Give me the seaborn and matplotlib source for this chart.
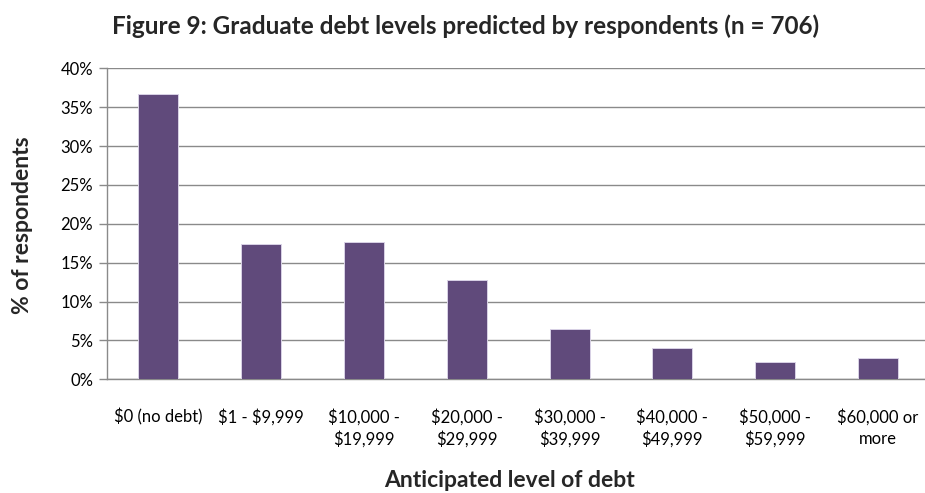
import matplotlib
matplotlib.use("Agg")
import matplotlib.pyplot as plt
import seaborn as sns
import pandas as pd
from matplotlib.ticker import PercentFormatter, MultipleLocator

categories = [
    "$0 (no debt)",
    "$1 - $9,999",
    "$10,000 -\n$19,999",
    "$20,000 -\n$29,999",
    "$30,000 -\n$39,999",
    "$40,000 -\n$49,999",
    "$50,000 -\n$59,999",
    "$60,000 or\nmore",
]
percent_respondents = [36.7, 17.4, 17.6, 12.8, 6.5, 4.0, 2.2, 2.8]

title = "Figure 9: Graduate debt levels predicted by respondents (n = 706)"
x_label = "Anticipated level of debt"
y_label = "% of respondents"

sns.set_theme(style="white")
plt.rcParams["font.family"] = ["Lato", "DejaVu Sans"]
plt.rcParams["text.parse_math"] = False

df = pd.DataFrame({"level": categories, "pct": percent_respondents})

fig = plt.figure(figsize=(9.25, 4.93), dpi=100)
ax = fig.add_axes([0.1157, 0.2306, 0.889, 0.6309])

grid_col = "#8a8a8a"
sns.barplot(data=df, x="level", y="pct", color="#604A7B", saturation=1,
            width=0.39, edgecolor="#d9d2e6", linewidth=0.7, ax=ax, zorder=3)

ax.set_ylim(0, 40)
ax.yaxis.set_major_locator(MultipleLocator(5))
ax.yaxis.set_major_formatter(PercentFormatter(decimals=0))
ax.set_xlim(-0.5, len(categories) - 0.5)
ax.grid(axis="y", color=grid_col, linewidth=1.0, zorder=0)
ax.set_axisbelow(True)

for side in ("top", "right"):
    ax.spines[side].set_visible(False)
for side in ("left", "bottom"):
    ax.spines[side].set_color(grid_col)
    ax.spines[side].set_linewidth(1.0)

# category boundary ticks on the x axis
ax.set_xticks([i - 0.5 for i in range(len(categories) + 1)], minor=True)
ax.tick_params(axis="x", which="minor", length=6, width=1.0, color=grid_col, direction="out")
ax.tick_params(axis="x", which="major", length=0, pad=21, labelsize=12, colors="black")
ax.tick_params(axis="y", which="major", length=6, width=1.0, color=grid_col,
               direction="out", labelsize=12, colors="black", left=True, pad=4)
for lbl in ax.get_xticklabels():
    lbl.set_linespacing(1.4)
    lbl.set_verticalalignment("top")

ax.set_xlabel(x_label, fontsize=16.5, fontweight="bold", va="center")
ax.xaxis.set_label_coords(0.49, -0.325)
ax.set_ylabel(y_label, fontsize=16.5, fontweight="bold", va="center")
ax.yaxis.set_label_coords(-0.103, 0.496)

fig.text(0.503, 0.947, title, ha="center", va="center", fontsize=17.5, fontweight="bold")

fig.savefig("out.png", dpi=100)
